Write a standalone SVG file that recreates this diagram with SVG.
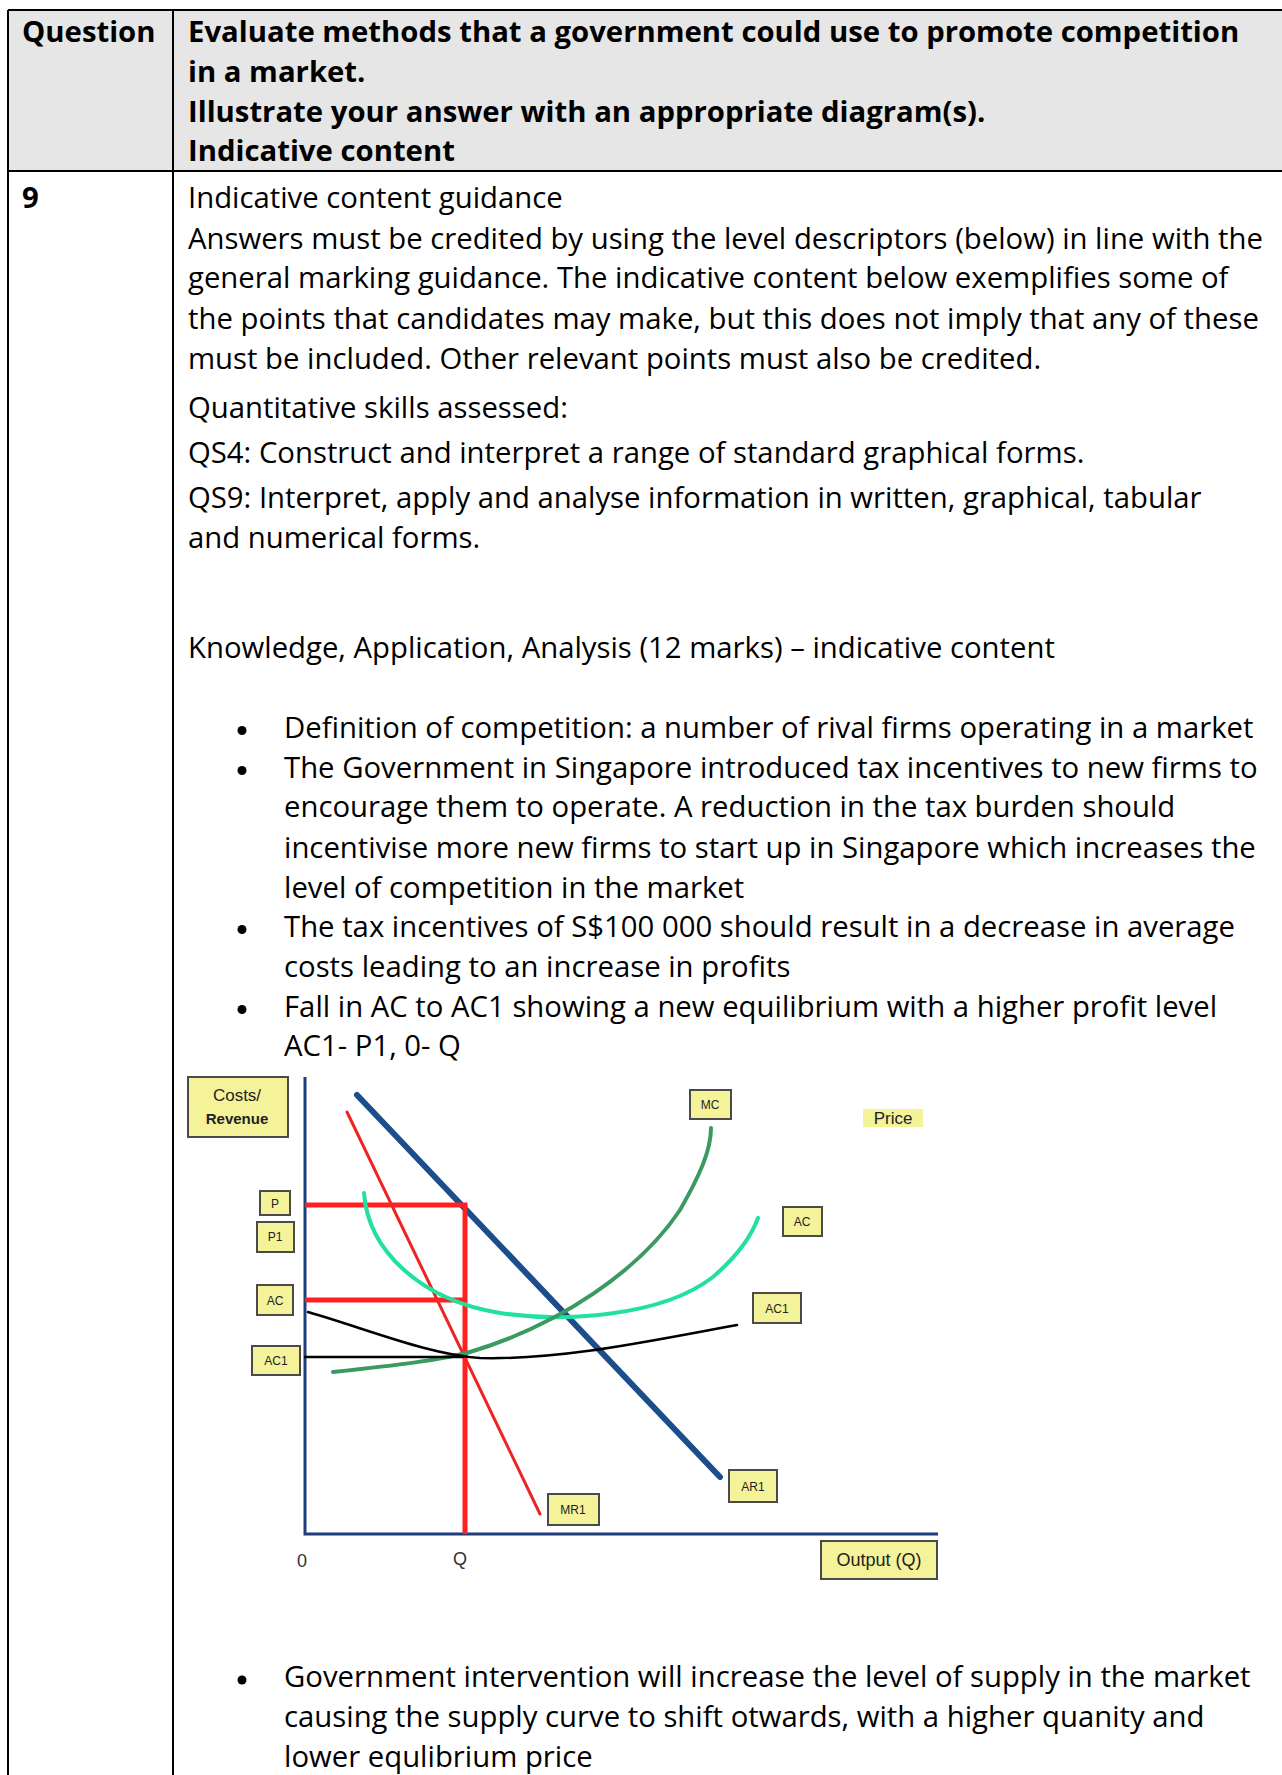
<svg xmlns="http://www.w3.org/2000/svg" width="1282" height="1775" viewBox="0 0 1282 1775">
<style>
.t{font-family:"Open Sans","Liberation Sans",sans-serif;font-size:29.3px;fill:#000}
.b{font-weight:bold}
.lbl{font-family:"Liberation Sans",Arial,sans-serif;font-size:12px;fill:#222;text-anchor:middle}
.box{fill:#f4f39a;stroke:#4a4a4a;stroke-width:2}
.ax{fill:none;stroke:#1f3d7a;stroke-width:3}
</style>
<rect x="0" y="0" width="1282" height="1775" fill="#fff"/>
<g id="table">
<rect x="8" y="10" width="1290" height="161" fill="#e6e6e6"/>
<path d="M8,10 H1290 M8,171 H1290 M8,10 V1775 M173,10 V1775" stroke="#000" stroke-width="2" fill="none"/>
</g>
<g id="header">
<text class="t b" x="22" y="42">Question</text>
<text class="t b" x="188" y="42">Evaluate methods that a government could use to promote competition</text>
<text class="t b" x="188" y="81.5">in a market.</text>
<text class="t b" x="188" y="121.5">Illustrate your answer with an appropriate diagram(s).</text>
<text class="t b" x="188" y="161">Indicative content</text>
</g>
<g id="body">
<text class="t b" x="22" y="207.5">9</text>
<text class="t" x="188" y="207.5">Indicative content guidance</text>
<text class="t" x="188" y="248.5">Answers must be credited by using the level descriptors (below) in line with the</text>
<text class="t" x="188" y="288">general marking guidance. The indicative content below exemplifies some of</text>
<text class="t" x="188" y="328.5">the points that candidates may make, but this does not imply that any of these</text>
<text class="t" x="188" y="368.5">must be included. Other relevant points must also be credited.</text>
<text class="t" x="188" y="417.5">Quantitative skills assessed:</text>
<text class="t" x="188" y="462.5">QS4: Construct and interpret a range of standard graphical forms.</text>
<text class="t" x="188" y="507.5">QS9: Interpret, apply and analyse information in written, graphical, tabular</text>
<text class="t" x="188" y="547.5">and numerical forms.</text>
<text class="t" x="188" y="657.5">Knowledge, Application, Analysis (12 marks) – indicative content</text>
<g id="bullets" fill="#000">
<circle cx="242" cy="730.5" r="4.5"/>
<circle cx="242" cy="770.5" r="4.5"/>
<circle cx="242" cy="929.5" r="4.5"/>
<circle cx="242" cy="1009.5" r="4.5"/>
<circle cx="242" cy="1680" r="4.5"/>
</g>
<text class="t" x="284" y="737.5">Definition of competition: a number of rival firms operating in a market</text>
<text class="t" x="284" y="777.5">The Government in Singapore introduced tax incentives to new firms to</text>
<text class="t" x="284" y="816.5">encourage them to operate. A reduction in the tax burden should</text>
<text class="t" x="284" y="857.5">incentivise more new firms to start up in Singapore which increases the</text>
<text class="t" x="284" y="897.5">level of competition in the market</text>
<text class="t" x="284" y="936.5">The tax incentives of S$100 000 should result in a decrease in average</text>
<text class="t" x="284" y="976.5">costs leading to an increase in profits</text>
<text class="t" x="284" y="1016.5">Fall in AC to AC1 showing a new equilibrium with a higher profit level</text>
<text class="t" x="284" y="1055.5">AC1- P1, 0- Q</text>
<text class="t" x="284" y="1687">Government intervention will increase the level of supply in the market</text>
<text class="t" x="284" y="1727">causing the supply curve to shift otwards, with a higher quanity and</text>
<text class="t" x="284" y="1767">lower equlibrium price</text>
</g>
<g id="diagram">
<g id="axes">
<path class="ax" d="M305,1077 V1534 H938"/>
</g>
<g id="curves" fill="none" stroke-linecap="round">
<path id="ar1-line" d="M357,1095 L720,1477" stroke="#1c4d8c" stroke-width="6"/>
<path id="mr1-line" d="M347,1112 L540,1514" stroke="#ee2424" stroke-width="3"/>
<path id="profit-rect" d="M305,1205 H465 V1534 M305,1300 H465" stroke="#ff2020" stroke-width="5" stroke-linecap="butt"/>
<path id="ac-curve" d="M364,1193 C368,1250 420,1300 500,1313 C560,1322 660,1318 713,1277 C735,1258 750,1240 758,1218" stroke="#22e0a0" stroke-width="4"/>
<path id="mc-curve" d="M333,1372 C400,1365 440,1360 470,1352 C560,1325 640,1270 680,1210 C700,1175 711,1150 711,1128" stroke="#3a9a62" stroke-width="4"/>
<path id="ac1-curve" d="M308,1312 C370,1330 430,1355 480,1358 C560,1360 640,1343 737,1325" stroke="#000" stroke-width="2.5"/>
<path id="ac1-level" d="M305,1357 H463" stroke="#000" stroke-width="2.5"/>
</g>
<g id="label-costs">
<rect class="box" x="188" y="1077" width="100" height="60"/>
<text x="237" y="1101" class="lbl" style="font-size:17px">Costs/</text>
<text x="237" y="1124" class="lbl" style="font-size:15px;font-weight:bold">Revenue</text>
</g>
<g id="label-p"><rect class="box" x="260" y="1191" width="30" height="24"/><text class="lbl" x="275" y="1208">P</text></g>
<g id="label-p1"><rect class="box" x="257" y="1222" width="37" height="30"/><text class="lbl" x="275" y="1241">P1</text></g>
<g id="label-ac"><rect class="box" x="257" y="1285" width="36" height="30"/><text class="lbl" x="275" y="1305">AC</text></g>
<g id="label-ac1"><rect class="box" x="252" y="1346" width="48" height="29"/><text class="lbl" x="276" y="1365">AC1</text></g>
<g id="label-mc"><rect class="box" x="690" y="1090" width="41" height="29"/><text class="lbl" x="710" y="1109">MC</text></g>
<g id="label-price"><rect x="863" y="1109" width="60" height="18" fill="#f4f39a"/><text class="lbl" x="893" y="1124" style="font-size:17px">Price</text></g>
<g id="label-ac-r"><rect class="box" x="783" y="1207" width="39" height="29"/><text class="lbl" x="802" y="1226">AC</text></g>
<g id="label-ac1-r"><rect class="box" x="753" y="1293" width="48" height="30"/><text class="lbl" x="777" y="1313">AC1</text></g>
<g id="label-ar1"><rect class="box" x="729" y="1470" width="48" height="32"/><text class="lbl" x="753" y="1491">AR1</text></g>
<g id="label-mr1"><rect class="box" x="548" y="1494" width="51" height="31"/><text class="lbl" x="573" y="1514">MR1</text></g>
<g id="label-output"><rect class="box" x="821" y="1541" width="116" height="38"/><text class="lbl" x="879" y="1566" style="font-size:18px">Output (Q)</text></g>
<text class="lbl" x="302" y="1567" style="font-size:18px;fill:#333">0</text>
<text class="lbl" x="460" y="1565" style="font-size:18px;fill:#333">Q</text>
</g>
</svg>
